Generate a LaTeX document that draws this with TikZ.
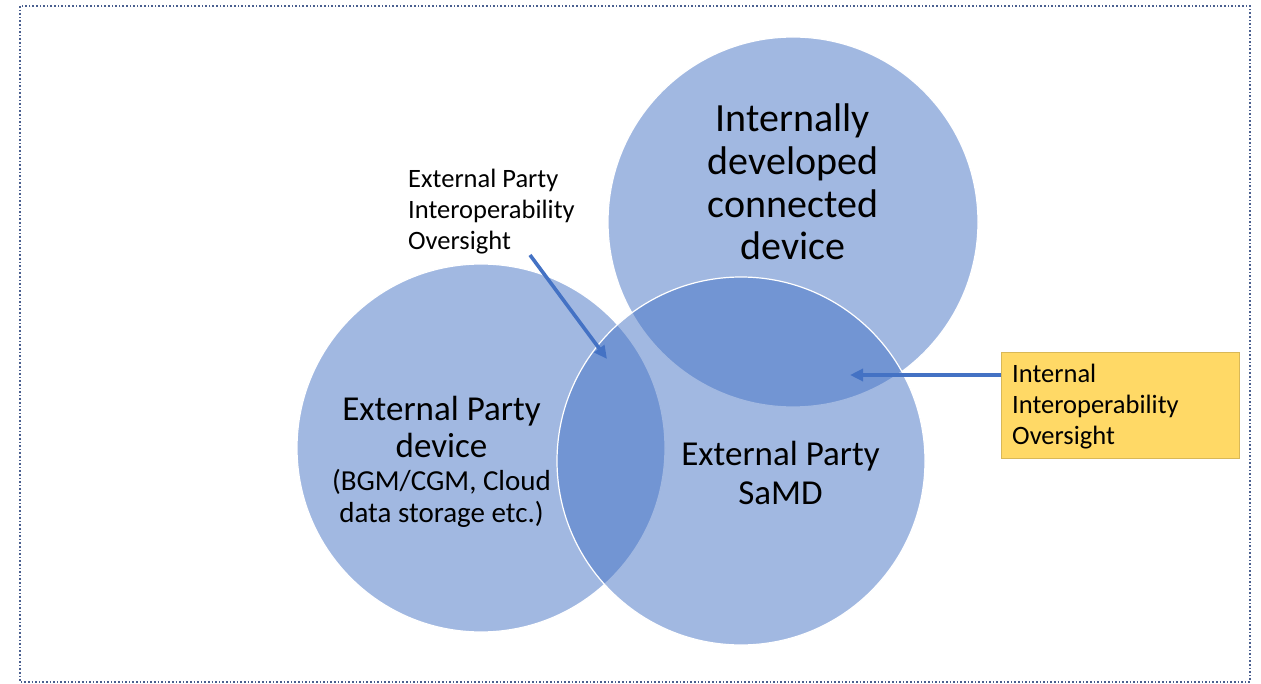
\documentclass[tikz,border=0pt]{standalone}
\usepackage{fontspec}
\setmainfont{Carlito}
\usetikzlibrary{arrows.meta}
\definecolor{accent}{HTML}{4472C4}
\definecolor{boxyellow}{HTML}{FFD966}
\definecolor{framecol}{HTML}{4A5F8F}
\begin{document}
\begin{tikzpicture}[x=1pt,y=-1pt,
  venn/.style={fill=accent,fill opacity=0.5,draw=white,draw opacity=1,line width=1.2pt},
  bigtext/.style={align=center,text=black,inner sep=0pt,anchor=base},
  smalltext/.style={align=left,text=black,inner sep=0pt,anchor=base west,font=\fontsize{26.5}{31}\selectfont},
  pointer/.style={draw=accent,line width=3.6pt,-{Triangle[length=13pt,width=12pt]}}
]
\useasboundingbox (0,0) rectangle (1261,684);
\draw[framecol,line width=1.6pt,dotted] (20,6) rectangle (1250,682);
% circles
\path[venn] (481,448) circle[radius=184];
\path[venn] (793,222) circle[radius=185];
\path[venn] (741,461) circle[radius=184];
\coordinate (lensL) at (607,359);
\coordinate (lensR) at (850,375);
% texts (anchor = baseline of the last line)
\node[bigtext,font=\fontsize{40}{42.7}\selectfont] (tint) at (793,260) {Internally\\developed\\connected\\device};
\node[bigtext,font=\fontsize{35}{37}\selectfont] (tleft) at (441.5,457) {External Party\\device};
\node[bigtext,font=\fontsize{29}{32}\selectfont] (tleft2) at (441.5,522) {(BGM/CGM, Cloud\\data storage etc.)};
\node[bigtext,font=\fontsize{35}{39}\selectfont] (tsamd) at (780.5,504) {External Party\\SaMD};
\node[smalltext] (lab1) at (408,250) {External Party\\Interoperability\\Oversight};
\node[fill=boxyellow,draw=boxyellow!85!black,line width=0.4pt,minimum width=238pt,minimum height=106pt,anchor=north west,inner sep=0pt] (box) at (1001,352) {};
\node[smalltext] (lab2) at (1012,444) {Internal\\Interoperability\\Oversight};
\coordinate (a1s) at (530,255);
\draw[pointer] (a1s) -- (lensL);
\draw[pointer] (box.west |- lensR) -- (lensR);
\end{tikzpicture}
\end{document}
